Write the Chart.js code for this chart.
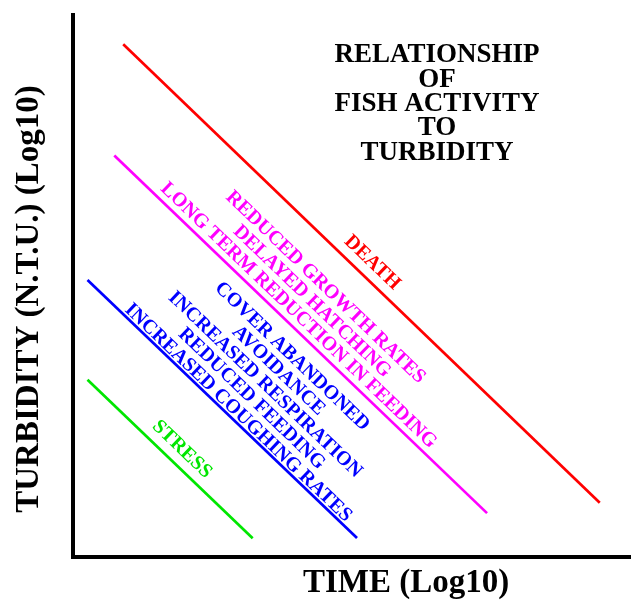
<!doctype html>
<html lang="en">
<head>
<meta charset="utf-8">
<title>Relationship of fish activity to turbidity</title>
<style>
  * { margin: 0; padding: 0; }
  body { background: #fff; }
  .chartBox { width: 631px; height: 601px; }
</style>
</head>
<body>
<div class="chartBox"><canvas id="myChart" width="631" height="601"></canvas></div>
<script src="https://cdn.jsdelivr.net/npm/chart.js"></script>
<script>
// line end points, both axes in arbitrary log units 0..10
const deathX = [0.9, 9.44];
const deathY = [9.45, 0.99];
const growthX = [0.74, 7.42];
const growthY = [7.4, 0.8];
const coverX = [0.26, 5.09];
const coverY = [5.1, 0.34];
const stressX = [0.26, 3.22];
const stressY = [3.26, 0.335];

// texts
const titleLines = ['RELATIONSHIP', 'OF', 'FISH ACTIVITY', 'TO', 'TURBIDITY'];
const xTitle = 'TIME (Log10)';
const yTitle = 'TURBIDITY (N.T.U.) (Log10)';
const deathText = ['DEATH'];
const growthText = ['REDUCED GROWTH RATES', 'DELAYED HATCHING', 'LONG TERM REDUCTION IN FEEDING'];
const coverText = ['COVER ABANDONED', 'AVOIDANCE', 'INCREASED RESPIRATION', 'REDUCED FEEDING', 'INCREASED COUGHING RATES'];
const stressText = ['STRESS'];

const serif = '"Liberation Serif", "Times New Roman", serif';

function pts(xs, ys) {
    return xs.map((x, i) => ({ x: x, y: ys[i] }));
}

// label block centres in data units
const series = [
    { label: 'Death', xs: deathX, ys: deathY, color: '#ff0000', text: deathText, at: [5.38, 5.44] },
    { label: 'Growth', xs: growthX, ys: growthY, color: '#ff00ff', text: growthText, at: [4.3, 4.725] },
    { label: 'Cover', xs: coverX, ys: coverY, color: '#0000ff', text: coverText, at: [3.46, 3.19] },
    { label: 'Stress', xs: stressX, ys: stressY, color: '#00e600', text: stressText, at: [1.97, 1.995] }
];

const textPlugin = {
    id: 'textPlugin',
    afterDatasetsDraw(chart) {
        const ctx = chart.ctx;
        const sx = chart.scales.x;
        const sy = chart.scales.y;
        ctx.save();
        ctx.textAlign = 'center';
        ctx.textBaseline = 'alphabetic';

        // title block
        ctx.fillStyle = '#000';
        ctx.font = 'bold 27px ' + serif;
        titleLines.forEach((t, i) => ctx.fillText(t, 437, 62.2 + i * 24.4));

        // axis titles
        ctx.font = 'bold 33px ' + serif;
        ctx.fillText(xTitle, 406, 592);
        ctx.save();
        ctx.translate(38, 299);
        ctx.rotate(-Math.PI / 2);
        ctx.fillText(yTitle, 0, 0);
        ctx.restore();

        // labels along the lines
        ctx.font = 'bold 20px ' + serif;
        const lh = 19.5;
        series.forEach(s => {
            const x0 = sx.getPixelForValue(s.xs[0]), y0 = sy.getPixelForValue(s.ys[0]);
            const x1 = sx.getPixelForValue(s.xs[1]), y1 = sy.getPixelForValue(s.ys[1]);
            const ang = Math.atan2(y1 - y0, x1 - x0);
            ctx.save();
            ctx.translate(sx.getPixelForValue(s.at[0]), sy.getPixelForValue(s.at[1]));
            ctx.rotate(ang);
            ctx.fillStyle = s.color;
            const n = s.text.length;
            s.text.forEach((t, i) => {
                ctx.fillText(t, 0, (i - (n - 1) / 2) * lh + 6.6);
            });
            ctx.restore();
        });
        ctx.restore();
    }
};

const axisOpts = {
    type: 'linear',
    min: 0,
    max: 10,
    grid: { display: false, drawTicks: false },
    ticks: { display: false },
    border: { display: true, color: '#000', width: 4 }
};

const config = {
    type: 'scatter',
    data: {
        datasets: series.map(s => ({
            label: s.label,
            data: pts(s.xs, s.ys),
            showLine: true,
            borderColor: s.color,
            borderWidth: 2.7,
            pointRadius: 0,
            fill: false
        }))
    },
    options: {
        responsive: false,
        animation: false,
        layout: { padding: { left: 73, top: 14.5, right: 0, bottom: 44.5 } },
        plugins: { legend: { display: false }, tooltip: { enabled: false } },
        scales: { x: axisOpts, y: axisOpts }
    },
    plugins: [textPlugin]
};

const myChart = new Chart(document.getElementById('myChart'), config);
</script>
</body>
</html>
